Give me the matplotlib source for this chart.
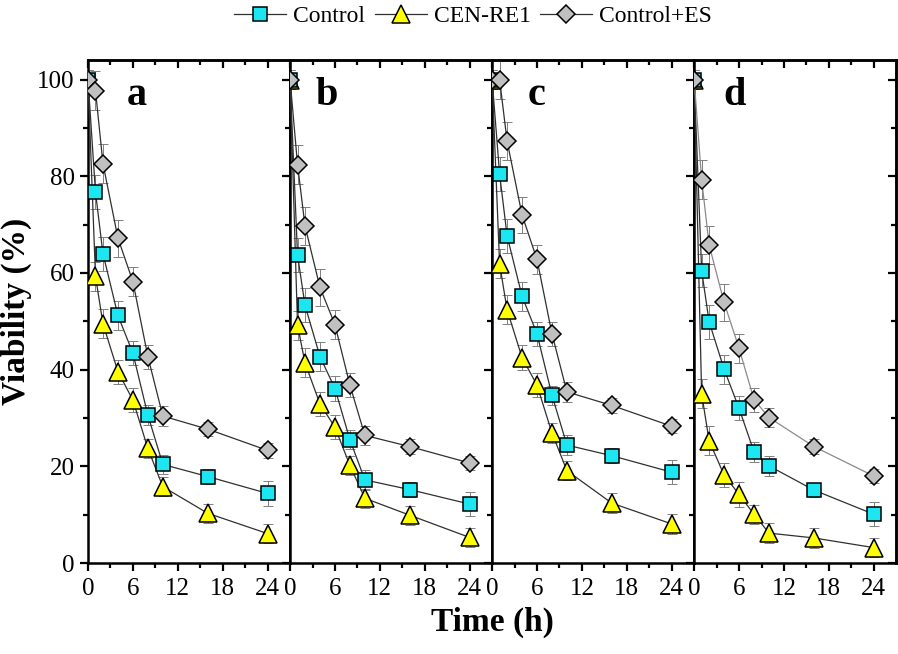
import matplotlib
matplotlib.use("Agg")
import matplotlib.pyplot as plt
from matplotlib.ticker import MultipleLocator, FixedLocator
from matplotlib.lines import Line2D

plt.rcParams["font.family"] = "serif"
plt.rcParams["font.serif"] = ["Liberation Serif", "DejaVu Serif"]

# sampling times (h)
hours = [0, 1, 2, 4, 6, 8, 10, 16, 24]

# viability (%)
control_a = [100, 76.7, 64.0, 51.2, 43.4, 30.6, 20.4, 17.9, 14.4]
cen_a = [100, 59.3, 49.5, 39.6, 33.7, 23.7, 15.8, 10.3, 6.1]
es_a = [100, 97.7, 82.6, 67.2, 58.2, 42.7, 30.4, 27.7, 23.3]

control_b = [100, 63.7, 53.3, 42.7, 36.1, 25.5, 17.2, 15.2, 12.2]
cen_b = [100, 49.2, 41.4, 32.9, 28.1, 20.2, 13.4, 9.9, 5.3]
es_b = [100, 82.4, 69.7, 57.0, 49.3, 36.8, 26.4, 24.1, 20.7]

control_c = [100, 80.5, 67.7, 55.2, 47.4, 34.7, 24.4, 22.2, 18.8]
cen_c = [100, 61.9, 52.4, 42.5, 36.8, 26.9, 19.1, 12.4, 8.1]
es_c = [100, 100, 87.3, 72.0, 62.8, 47.4, 35.4, 32.6, 28.3]

control_d = [100, 60.5, 49.9, 40.1, 32.0, 23.0, 20.1, 15.1, 10.1]
cen_d = [100, 35.0, 25.3, 18.2, 14.2, 10.1, 6.2, 5.2, 3.2]
es_d = [100, 79.3, 65.8, 53.9, 44.4, 33.8, 30.1, 24.1, 18.0]

# error bars (SD), rough estimates
control_err = [2.0, 3.5, 3.5, 3.0, 2.5, 2.0, 2.0, 1.5, 2.5]
cen_err = [2.0, 3.0, 3.0, 2.5, 2.5, 2.0, 2.0, 2.0, 2.0]
es_err = [2.0, 4.0, 4.0, 3.8, 3.0, 2.5, 2.0, 1.5, 1.5]

panel_labels = ["a", "b", "c", "d"]
panels = [
    (control_a, cen_a, es_a),
    (control_b, cen_b, es_b),
    (control_c, cen_c, es_c),
    (control_d, cen_d, es_d),
]
label_x = [0.24, 0.18, 0.22, 0.2]

cyan = "#1CE6F2"
yellow = "#FFFF00"
grey = "#C0C0C0"

fig, axes = plt.subplots(1, 4, figsize=(8.98, 6.54), dpi=100, sharey=True)
fig.subplots_adjust(left=0.098, right=0.998, top=0.908, bottom=0.139, wspace=0)

for i, ax in enumerate(axes):
    ctrl, cen, es = panels[i]
    es_line = "#8A8A8A" if i == 3 else "#303030"
    for vals, err in [(cen, cen_err), (ctrl, control_err), (es, es_err)]:
        ax.errorbar(hours, vals, yerr=err, fmt="none", ecolor="#808080",
                    elinewidth=0.7, capsize=3.5, capthick=0.7, zorder=2)
    ax.plot(hours, cen, color="#303030", lw=0.9, marker="^", ms=13,
            mfc=yellow, mec="black", mew=1.1, zorder=3)
    ax.plot(hours, ctrl, color="#303030", lw=0.9, marker="s", ms=10,
            mfc=cyan, mec="black", mew=1.1, zorder=4)
    ax.plot(hours, es, color=es_line, lw=0.9, marker="D", ms=9.5,
            mfc=grey, mec="black", mew=1.1, zorder=5)

    ax.set_xlim(0, 27)
    ax.set_ylim(0, 104)
    ax.xaxis.set_major_locator(FixedLocator([0, 6, 12, 18, 24]))
    ax.xaxis.set_minor_locator(FixedLocator([3, 9, 15, 21]))
    ax.yaxis.set_major_locator(MultipleLocator(20))
    ax.yaxis.set_minor_locator(MultipleLocator(10))

    for s in ax.spines.values():
        s.set_linewidth(1.8)

    ax.tick_params(axis="x", which="both", bottom=True, top=False,
                   direction="out", labelsize=18, width=1.6, pad=5)
    ax.tick_params(axis="x", which="major", length=6)
    ax.tick_params(axis="x", which="minor", length=3.5)
    ax.tick_params(axis="y", which="both", left=(i == 0), right=False,
                   direction="out", labelsize=18, width=1.6)
    ax.tick_params(axis="y", which="major", length=6)
    ax.tick_params(axis="y", which="minor", length=3.5)

    # inward ticks on the top and right edges
    top = ax.secondary_xaxis("top")
    top.xaxis.set_major_locator(FixedLocator([0, 6, 12, 18, 24]))
    top.xaxis.set_minor_locator(FixedLocator([3, 9, 15, 21]))
    top.tick_params(which="both", direction="in", labeltop=False, width=1.6)
    top.tick_params(which="major", length=6)
    top.tick_params(which="minor", length=3.5)
    top.spines["top"].set_linewidth(1.8)
    right = ax.secondary_yaxis("right")
    right.yaxis.set_major_locator(MultipleLocator(20))
    right.yaxis.set_minor_locator(MultipleLocator(10))
    right.tick_params(which="both", direction="in", labelright=False, width=1.6)
    right.tick_params(which="major", length=6)
    right.tick_params(which="minor", length=3.5)
    right.spines["right"].set_linewidth(1.8)

    ax.text(label_x[i], 0.91, panel_labels[i], transform=ax.transAxes,
            fontsize=29, fontweight="bold", ha="center", va="baseline")

axes[0].set_ylabel("Viability (%)", fontsize=24, fontweight="bold", labelpad=4)
fig.text(0.548, 0.048, "Time (h)", fontsize=24, fontweight="bold",
         ha="center", va="center")

handles = [
    Line2D([], [], color="#303030", lw=0.9, marker="s", ms=10, mfc=cyan, mec="black", mew=1.1),
    Line2D([], [], color="#303030", lw=0.9, marker="^", ms=13, mfc=yellow, mec="black", mew=1.1),
    Line2D([], [], color="#303030", lw=0.9, marker="D", ms=9.5, mfc=grey, mec="black", mew=1.1),
]
fig.legend(handles, ["Control", "CEN-RE1", "Control+ES"], loc="center",
           bbox_to_anchor=(0.527, 0.975), ncol=3, frameon=False, fontsize=17,
           handlelength=2.2, handletextpad=0.3, columnspacing=0.4)

fig.savefig("out.png", dpi=100)
